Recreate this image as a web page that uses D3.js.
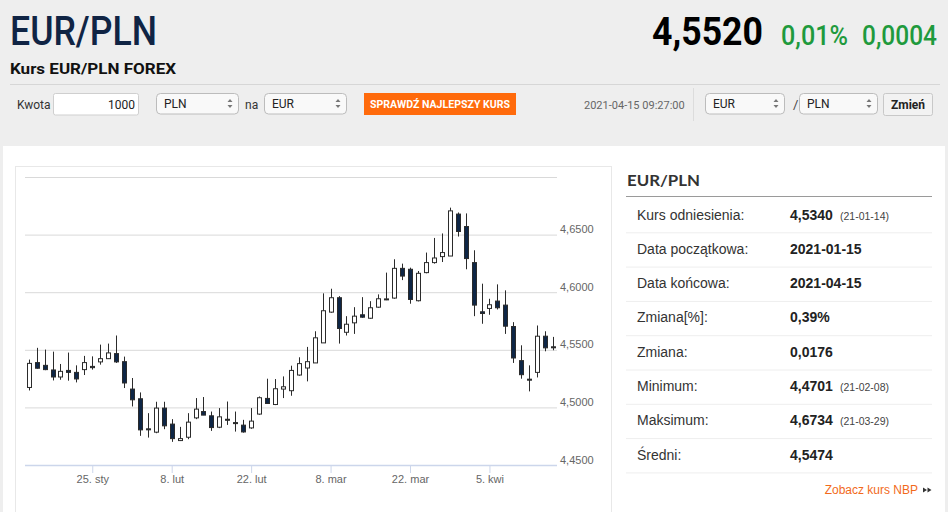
<!DOCTYPE html>
<html>
<head>
<meta charset="utf-8">
<script src="https://cdn.jsdelivr.net/npm/d3@7/dist/d3.min.js"></script>
<style>
  body { margin: 0; background: #eeeeee; }
  svg { display: block; }
</style>
</head>
<body>
<div id="chart"></div>
<script>
// trading days shown on the chart (ordinal axis, weekends skipped)
const dates = [
  "2021-01-13","2021-01-14","2021-01-15","2021-01-18","2021-01-19","2021-01-20","2021-01-21","2021-01-22",
  "2021-01-25","2021-01-26","2021-01-27","2021-01-28","2021-01-29",
  "2021-02-01","2021-02-02","2021-02-03","2021-02-04","2021-02-05","2021-02-08","2021-02-09","2021-02-10",
  "2021-02-11","2021-02-12","2021-02-15","2021-02-16","2021-02-17","2021-02-18","2021-02-19","2021-02-22",
  "2021-02-23","2021-02-24","2021-02-25","2021-02-26",
  "2021-03-01","2021-03-02","2021-03-03","2021-03-04","2021-03-05","2021-03-08","2021-03-09","2021-03-10",
  "2021-03-11","2021-03-12","2021-03-15","2021-03-16","2021-03-17","2021-03-18","2021-03-19","2021-03-22",
  "2021-03-23","2021-03-24","2021-03-25","2021-03-26","2021-03-29","2021-03-30","2021-03-31",
  "2021-04-01","2021-04-02","2021-04-05","2021-04-06","2021-04-07","2021-04-08","2021-04-09","2021-04-12",
  "2021-04-13","2021-04-14","2021-04-15"
];

const opens = [
  4.5173,4.5389,4.5365,4.5325,4.5264,4.5321,4.5304,4.5328,4.5356,4.5395,4.5423,4.5467,4.5397,4.5159,4.5075,4.4814,
  4.4785,4.4994,4.4855,4.4712,4.4741,4.4909,4.4964,4.4927,4.4828,4.4897,4.4868,4.4846,4.4822,4.4942,4.5078,4.5025,
  4.5159,4.5145,4.5281,4.5342,4.5386,4.5560,4.5827,4.5952,4.5652,4.5734,4.5804,4.5774,4.5870,4.5938,4.5949,4.6207,
  4.6199,4.5926,4.6170,4.6257,4.6309,4.6314,4.6678,4.6570,4.6257,4.5830,4.5859,4.5923,4.5888,4.5702,4.5406,4.5245,
  4.5304,4.5618,4.5526
];
const highs = [
  4.5415,4.5517,4.5502,4.5484,4.5377,4.5476,4.5365,4.5447,4.5443,4.5545,4.5554,4.5624,4.5441,4.5255,4.5130,4.4950,
  4.5049,4.5049,4.4898,4.4831,4.4950,4.5081,4.5090,4.4964,4.4994,4.5051,4.4964,4.4892,4.4994,4.5095,4.5249,4.5246,
  4.5269,4.5362,4.5435,4.5525,4.5661,4.5990,4.6030,4.5966,4.5792,4.5870,4.5957,4.5922,4.5981,4.6170,4.6286,4.6248,
  4.6213,4.6184,4.6344,4.6471,4.6510,4.6734,4.6692,4.6684,4.6364,4.6074,4.5943,4.6068,4.6016,4.5740,4.5539,4.5365,
  4.5711,4.5661,4.5612
];
const lows = [
  4.5147,4.5336,4.5323,4.5234,4.5240,4.5232,4.5217,4.5281,4.5328,4.5371,4.5420,4.5386,4.5168,4.5008,4.4753,4.4738,
  4.4776,4.4811,4.4701,4.4708,4.4724,4.4898,4.4933,4.4796,4.4820,4.4848,4.4790,4.4781,4.4814,4.4936,4.5034,4.5020,
  4.5081,4.5101,4.5275,4.5226,4.5386,4.5560,4.5821,4.5554,4.5624,4.5638,4.5778,4.5769,4.5865,4.5931,4.5943,4.6105,
  4.5900,4.5920,4.6164,4.6248,4.6262,4.6314,4.6483,4.6199,4.5792,4.5726,4.5804,4.5850,4.5638,4.5386,4.5249,4.5139,
  4.5260,4.5487,4.5496
];
const closes = [
  4.5382,4.5340,4.5328,4.5264,4.5313,4.5304,4.5247,4.5389,4.5345,4.5423,4.5473,4.5395,4.5212,4.5066,4.4805,4.4808,
  4.4994,4.4840,4.4729,4.4729,4.4872,4.4985,4.4933,4.4825,4.4918,4.4893,4.4864,4.4787,4.4881,4.5084,4.5034,4.5162,
  4.5179,4.5321,4.5380,4.5397,4.5604,4.5839,4.5952,4.5685,4.5722,4.5792,4.5783,4.5865,4.5943,4.5942,4.6207,4.6140,
  4.5937,4.6164,4.6257,4.6297,4.6344,4.6706,4.6527,4.6292,4.5888,4.5815,4.5891,4.5865,4.5705,4.5429,4.5284,4.5241,
  4.5618,4.5517,4.5520
];

const tickDates = ["2021-01-25","2021-02-08","2021-02-22","2021-03-08","2021-03-22","2021-04-05"];
const tickLabels = ["25. sty","8. lut","22. lut","8. mar","22. mar","5. kwi"];
const yTicks = [4.45, 4.50, 4.55, 4.60, 4.65, 4.70];

const statLabels = ["Kurs odniesienia:","Data początkowa:","Data końcowa:","Zmiana[%]:","Zmiana:","Minimum:","Maksimum:","Średni:"];
const statValues = ["4,5340","2021-01-15","2021-04-15","0,39%","0,0176","4,4701","4,6734","4,5474"];
const statDates = ["(21-01-14)","","","","","(21-02-08)","(21-03-29)",""];

const pairName = "EUR/PLN";
const lastPrice = "4,5520";
const changePct = "0,01%";
const changeAbs = "0,0004";

const width = 948, height = 512;
const sans = "'Liberation Sans', Arial, sans-serif";
const cond = "Roboto, 'Liberation Sans', sans-serif";

const svg = d3.select("#chart").append("svg")
  .attr("width", width)
  .attr("height", height);

svg.append("rect").attr("width", width).attr("height", height).attr("fill", "#eeeeee");

// ---------- header ----------
svg.append("text").attr("x", 10).attr("y", 45)
  .attr("font-family", cond).attr("font-size", 41).attr("font-weight", 500)
  .attr("fill", "#102444").attr("textLength", 147).attr("lengthAdjust", "spacingAndGlyphs")
  .text(pairName);

svg.append("text").attr("x", 10).attr("y", 74)
  .attr("font-family", cond).attr("font-size", 15).attr("font-weight", 700)
  .attr("fill", "#111").attr("textLength", 166).attr("lengthAdjust", "spacingAndGlyphs")
  .text("Kurs EUR/PLN FOREX");

svg.append("text").attr("x", 652).attr("y", 45)
  .attr("font-family", cond).attr("font-size", 38).attr("font-weight", 700)
  .attr("fill", "#000").attr("textLength", 111).attr("lengthAdjust", "spacingAndGlyphs")
  .text(lastPrice);
svg.append("text").attr("x", 781).attr("y", 45)
  .attr("font-family", cond).attr("font-size", 27).attr("font-weight", 500)
  .attr("fill", "#1f9a3d").attr("textLength", 67).attr("lengthAdjust", "spacingAndGlyphs")
  .text(changePct);
svg.append("text").attr("x", 862).attr("y", 45)
  .attr("font-family", cond).attr("font-size", 27).attr("font-weight", 500)
  .attr("fill", "#1f9a3d").attr("textLength", 75).attr("lengthAdjust", "spacingAndGlyphs")
  .text(changeAbs);

svg.append("line").attr("x1", 10).attr("x2", 940).attr("y1", 84.5).attr("y2", 84.5)
  .attr("stroke", "#d6d6d6");

// controls row
function label(x, y, txt, opts = {}) {
  return svg.append("text").attr("x", x).attr("y", y)
    .attr("font-family", opts.family || cond).attr("font-size", opts.size || 12)
    .attr("font-weight", opts.weight || 400).attr("fill", opts.fill || "#333")
    .attr("text-anchor", opts.anchor || "start")
    .text(txt);
}

function selectBox(x, w, txt) {
  svg.append("rect").attr("x", x + 0.5).attr("y", 93.5).attr("width", w).attr("height", 20.5)
    .attr("rx", 4).attr("fill", "#f9f9f9").attr("stroke", "#bcbcbc");
  label(x + 8, 108, txt, { fill: "#222" });
  const ax = x + w - 8;
  svg.append("path").attr("d", `M${ax - 2.5},102 L${ax + 2.5},102 L${ax},99 Z`).attr("fill", "#777");
  svg.append("path").attr("d", `M${ax - 2.5},105 L${ax + 2.5},105 L${ax},108 Z`).attr("fill", "#777");
}

label(17, 109, "Kwota");
svg.append("rect").attr("x", 53.5).attr("y", 93.5).attr("width", 85).attr("height", 21.5)
  .attr("rx", 2).attr("fill", "#fff").attr("stroke", "#cfcfcf");
label(135, 109, "1000", { anchor: "end", fill: "#222" });
selectBox(156, 82, "PLN");
label(245, 109, "na");
selectBox(264, 82, "EUR");

svg.append("rect").attr("x", 364).attr("y", 93).attr("width", 152).attr("height", 22).attr("fill", "#ff6a0b");
svg.append("text").attr("x", 440).attr("y", 108).attr("text-anchor", "middle")
  .attr("font-family", cond).attr("font-size", 11).attr("font-weight", 700).attr("fill", "#fff")
  .attr("textLength", 140).attr("lengthAdjust", "spacingAndGlyphs")
  .text("SPRAWDŹ NAJLEPSZY KURS");

label(584, 109, "2021-04-15 09:27:00", { size: 11, fill: "#666" });
svg.append("line").attr("x1", 693.5).attr("x2", 693.5).attr("y1", 88).attr("y2", 121).attr("stroke", "#dcdcdc");
selectBox(705, 79, "EUR");
label(793, 109, "/", { size: 13, fill: "#444" });
selectBox(799, 78, "PLN");
svg.append("rect").attr("x", 883.5).attr("y", 93.5).attr("width", 49).attr("height", 22)
  .attr("rx", 2).attr("fill", "#f2f2f2").attr("stroke", "#c8c8c8");
label(908, 109, "Zmień", { anchor: "middle", weight: 700, fill: "#222" });

// ---------- content panel ----------
svg.append("rect").attr("x", 3).attr("y", 146).attr("width", 942).attr("height", 370).attr("fill", "#fff");
svg.append("rect").attr("x", 15.5).attr("y", 166.5).attr("width", 596).attr("height", 360)
  .attr("fill", "#fff").attr("stroke", "#e8e8e8");

// scales
const x = d3.scalePoint().domain(dates).range([28.7, 553]);
const y = d3.scaleLinear().domain([4.45, 4.70]).range([465, 177]);

// y grid + labels on the right
const fmt = (v) => v.toFixed(4).replace(".", ",");
const yAxis = svg.append("g")
  .attr("transform", "translate(557,0)")
  .call(d3.axisRight(y).tickValues(yTicks).tickSize(-532).tickPadding(3)
    .tickFormat((d) => (d >= 4.699 ? "" : fmt(d))));
yAxis.select(".domain").remove();
yAxis.selectAll(".tick line").attr("stroke", "#d9d9d9");
yAxis.selectAll(".tick text")
  .attr("dy", -2)
  .attr("font-family", sans).attr("font-size", 11).attr("fill", "#666");

// x axis
const xAxis = svg.append("g")
  .attr("transform", "translate(0,465)")
  .call(d3.axisBottom(x).tickValues(tickDates).tickSizeInner(8).tickSizeOuter(0)
    .tickFormat((d) => tickLabels[tickDates.indexOf(d)]));
xAxis.select(".domain").attr("d", "M25,0.5H557").attr("stroke", "#ccd6eb").attr("stroke-width", 1.5);
xAxis.selectAll(".tick line").attr("stroke", "#ccd6eb");
xAxis.selectAll(".tick text")
  .attr("y", 18).attr("dy", 0)
  .attr("font-family", sans).attr("font-size", 11).attr("fill", "#666");

// candles
const candles = dates.map((d, i) => ({
  date: d, open: opens[i], high: highs[i], low: lows[i], close: closes[i]
}));

const g = svg.append("g").attr("class", "candles");
const c = g.selectAll("g").data(candles).enter().append("g");

c.append("line")
  .attr("x1", (d) => Math.round(x(d.date)) + 0.5)
  .attr("x2", (d) => Math.round(x(d.date)) + 0.5)
  .attr("y1", (d) => y(d.high))
  .attr("y2", (d) => y(d.low))
  .attr("stroke", "#2b2b2b");

c.append("rect")
  .attr("x", (d) => Math.round(x(d.date)) - 1.5)
  .attr("width", 4)
  .attr("y", (d) => y(Math.max(d.open, d.close)))
  .attr("height", (d) => Math.max(1, Math.abs(y(d.open) - y(d.close))))
  .attr("fill", (d) => (d.close >= d.open ? "#fff" : "#0e2646"))
  .attr("stroke", "#2b2b2b");

// ---------- stats table ----------
svg.append("text").attr("x", 627).attr("y", 186)
  .attr("font-family", "Lato, " + sans).attr("font-size", 16).attr("font-weight", 700)
  .attr("fill", "#333").attr("textLength", 73).attr("lengthAdjust", "spacingAndGlyphs")
  .text(pairName);
svg.append("line").attr("x1", 626).attr("x2", 932).attr("y1", 196.5).attr("y2", 196.5)
  .attr("stroke", "#9a9a9a");

const rowH = 34.3;
const rows = svg.append("g").selectAll("g").data(statLabels).enter().append("g")
  .attr("transform", (d, i) => `translate(0,${219.5 + i * rowH})`);

rows.append("line").attr("x1", 626).attr("x2", 932).attr("y1", 13.3).attr("y2", 13.3)
  .attr("stroke", "#eeeeee");
rows.append("text").attr("x", 637)
  .attr("font-family", sans).attr("font-size", 14).attr("fill", "#333")
  .text((d) => d);
rows.append("text").attr("x", 790)
  .attr("font-family", sans).attr("font-size", 14).attr("font-weight", 700).attr("fill", "#222")
  .text((d, i) => statValues[i]);
rows.append("text").attr("x", 840)
  .attr("font-family", sans).attr("font-size", 10.5).attr("fill", "#444")
  .text((d, i) => statDates[i]);

svg.append("text").attr("x", 918).attr("y", 494).attr("text-anchor", "end")
  .attr("font-family", sans).attr("font-size", 12).attr("fill", "#f26a1b")
  .text("Zobacz kurs NBP");
svg.append("path").attr("d", "M923,487.5 L927,490 L923,492.5 Z M927.5,487.5 L931.5,490 L927.5,492.5 Z")
  .attr("fill", "#333");
</script>
</body>
</html>
